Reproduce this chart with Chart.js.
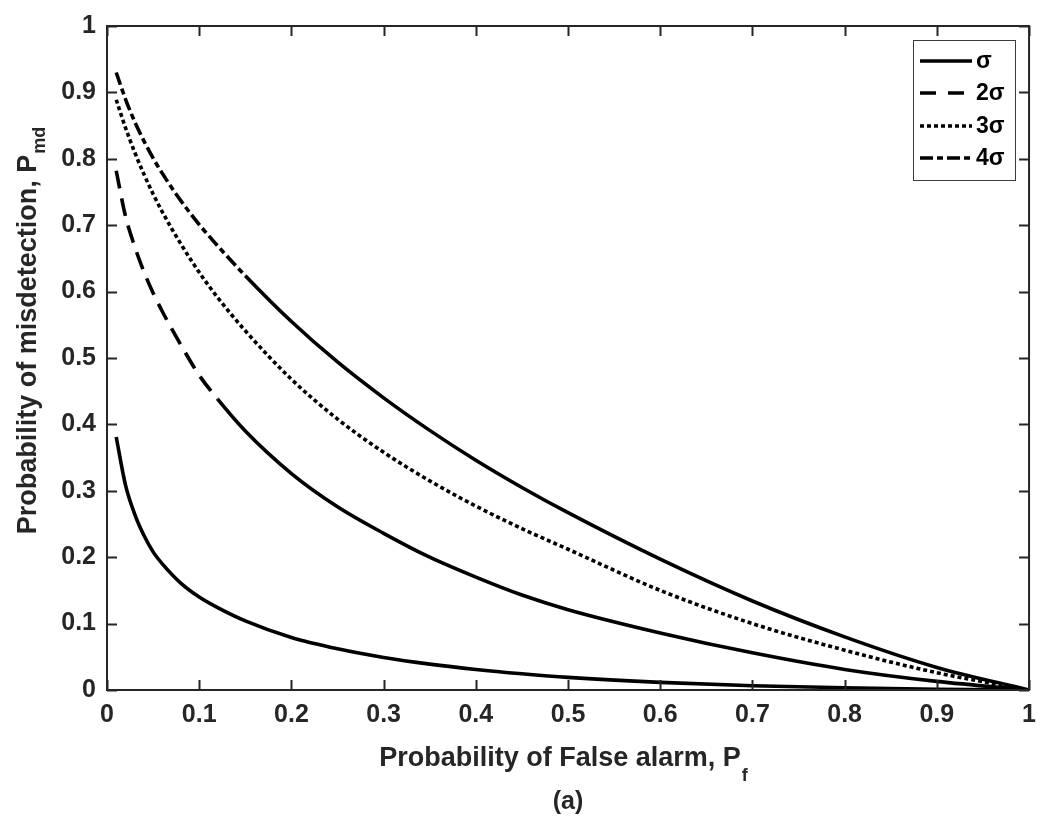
<!DOCTYPE html>
<html>
<head>
<meta charset="utf-8">
<style>
  html, body { margin: 0; padding: 0; background: #ffffff; }
  #wrap { width: 1046px; height: 823px; }
  canvas { display: block; }
</style>
<script src="https://cdn.jsdelivr.net/npm/chart.js@4/dist/chart.umd.min.js"></script>
</head>
<body>
<div id="wrap"><canvas id="roc" width="1046" height="823"></canvas></div>
<script>
// Probability of false alarm (x) shared by every curve
const pf = [0.01, 0.02, 0.03, 0.04, 0.05, 0.06, 0.08, 0.10, 0.12, 0.15, 0.20, 0.25, 0.30, 0.35, 0.40, 0.45, 0.50, 0.60, 0.70, 0.80, 0.90, 1.00];

// Probability of misdetection for each noise level
const pmdSigma1 = [0.381, 0.309, 0.265, 0.233, 0.208, 0.190, 0.161, 0.140, 0.124, 0.104, 0.079, 0.062, 0.049, 0.039, 0.031, 0.0245, 0.019, 0.0115, 0.0065, 0.0033, 0.0012, 0];
const pmdSigma2 = [0.782, 0.714, 0.668, 0.630, 0.598, 0.570, 0.520, 0.474, 0.438, 0.390, 0.326, 0.276, 0.236, 0.200, 0.170, 0.143, 0.121, 0.086, 0.056, 0.031, 0.013, 0];
const pmdSigma3 = [0.889, 0.847, 0.810, 0.777, 0.747, 0.720, 0.672, 0.629, 0.591, 0.541, 0.468, 0.408, 0.358, 0.315, 0.277, 0.243, 0.212, 0.150, 0.100, 0.060, 0.026, 0];
const pmdSigma4 = [0.930, 0.890, 0.856, 0.827, 0.801, 0.778, 0.737, 0.701, 0.669, 0.624, 0.555, 0.494, 0.440, 0.391, 0.346, 0.305, 0.267, 0.197, 0.134, 0.080, 0.034, 0];

const seriesNames = ['\u03c3', '2\u03c3', '3\u03c3', '4\u03c3'];

// Axis ticks
const xTickValues = [0, 0.1, 0.2, 0.3, 0.4, 0.5, 0.6, 0.7, 0.8, 0.9, 1];
const xTickLabels = ['0', '0.1', '0.2', '0.3', '0.4', '0.5', '0.6', '0.7', '0.8', '0.9', '1'];
const yTickValues = [0, 0.1, 0.2, 0.3, 0.4, 0.5, 0.6, 0.7, 0.8, 0.9, 1];
const yTickLabels = ['0', '0.1', '0.2', '0.3', '0.4', '0.5', '0.6', '0.7', '0.8', '0.9', '1'];

const FONT = '"Liberation Sans", Arial, Helvetica, sans-serif';
const AXIS_COLOR = '#262626';
const LINE_W = 3.6;

// Line styles: the dashed curves render as solid once points get dense
const DASH = [18, 10];
const DOT = [4, 3];
const DASHDOT = [13, 4, 6, 4];

function points(ys) { return pf.map((x, i) => ({ x: x, y: ys[i] })); }

function dashUntil(pattern, limit) {
  return ctx => (ctx.p0.parsed.x < limit ? pattern : []);
}

const datasets = [
  { label: seriesNames[0], data: points(pmdSigma1), borderDash: [], legendDash: [] },
  { label: seriesNames[1], data: points(pmdSigma2), borderDash: DASH, legendDash: [16, 12],
    segment: { borderDash: dashUntil(DASH, 0.12) } },
  { label: seriesNames[2], data: points(pmdSigma3), borderDash: DOT, legendDash: [4, 3] },
  { label: seriesNames[3], data: points(pmdSigma4), borderDash: DASHDOT, legendDash: [13, 4, 6, 4],
    segment: { borderDash: dashUntil(DASHDOT, 0.14) } }
].map(d => Object.assign({
  borderColor: '#000000',
  backgroundColor: '#000000',
  borderWidth: LINE_W,
  borderCapStyle: 'butt',
  borderJoinStyle: 'round',
  pointRadius: 0,
  fill: false,
  cubicInterpolationMode: 'monotone'
}, d));

// Box around the plot with inward tick marks on all four sides,
// axis titles with subscripts, caption and an inset legend
const matlabFrame = {
  id: 'matlabFrame',
  afterDraw(chart) {
    const ctx = chart.ctx;
    const a = chart.chartArea;
    const xs = chart.scales.x, ys = chart.scales.y;
    const TL = 10;
    ctx.save();
    ctx.strokeStyle = AXIS_COLOR;
    ctx.lineWidth = 2;
    ctx.beginPath();
    xTickValues.forEach(v => {
      const px = Math.round(xs.getPixelForValue(v)) + 0.5;
      ctx.moveTo(px, a.bottom); ctx.lineTo(px, a.bottom - TL);
      ctx.moveTo(px, a.top); ctx.lineTo(px, a.top + TL);
    });
    yTickValues.forEach(v => {
      const py = Math.round(ys.getPixelForValue(v)) + 0.5;
      ctx.moveTo(a.left, py); ctx.lineTo(a.left + TL, py);
      ctx.moveTo(a.right, py); ctx.lineTo(a.right - TL, py);
    });
    ctx.stroke();
    ctx.strokeRect(a.left, a.top, a.right - a.left, a.bottom - a.top);

    // x axis title
    ctx.fillStyle = AXIS_COLOR;
    ctx.textBaseline = 'alphabetic';
    const cx = (a.left + a.right) / 2;
    const mainX = 'Probability of False alarm, P';
    const subX = 'f';
    ctx.font = 'bold 27px ' + FONT;
    const wMainX = ctx.measureText(mainX).width;
    ctx.font = 'bold 18px ' + FONT;
    const wSubX = ctx.measureText(subX).width;
    const x0 = cx - 5 - (wMainX + wSubX) / 2;
    ctx.textAlign = 'left';
    ctx.font = 'bold 27px ' + FONT;
    ctx.fillText(mainX, x0, 766);
    ctx.font = 'bold 18px ' + FONT;
    ctx.fillText(subX, x0 + wMainX + 1, 781);

    // caption
    ctx.font = 'bold 25px ' + FONT;
    ctx.textAlign = 'center';
    ctx.fillText('(a)', cx, 809);

    // y axis title (rotated)
    const cy = 331;
    const mainY = 'Probability of misdetection, P';
    const subY = 'md';
    ctx.font = 'bold 27px ' + FONT;
    const wMainY = ctx.measureText(mainY).width;
    ctx.font = 'bold 18px ' + FONT;
    const wSubY = ctx.measureText(subY).width;
    ctx.save();
    ctx.translate(36, cy);
    ctx.rotate(-Math.PI / 2);
    const y0 = -(wMainY + wSubY) / 2;
    ctx.textAlign = 'left';
    ctx.font = 'bold 27px ' + FONT;
    ctx.fillText(mainY, y0, 0);
    ctx.font = 'bold 18px ' + FONT;
    ctx.fillText(subY, y0 + wMainY + 1, 9);
    ctx.restore();

    // legend
    const lx = 913.5, ly = 40.5, lw = 102, lh = 140;
    ctx.fillStyle = '#ffffff';
    ctx.fillRect(lx, ly, lw, lh);
    ctx.strokeStyle = '#3a3a3a';
    ctx.lineWidth = 1;
    ctx.strokeRect(lx, ly, lw, lh);
    const rows = [61, 93, 126, 158];
    chart.data.datasets.forEach((ds, i) => {
      const ry = rows[i];
      ctx.save();
      ctx.strokeStyle = '#000000';
      ctx.lineWidth = LINE_W;
      ctx.lineCap = 'butt';
      ctx.setLineDash(ds.legendDash);
      ctx.beginPath();
      ctx.moveTo(920, ry);
      ctx.lineTo(972, ry);
      ctx.stroke();
      ctx.restore();
      ctx.fillStyle = '#000000';
      ctx.font = 'bold 23px ' + FONT;
      ctx.textAlign = 'left';
      ctx.textBaseline = 'middle';
      ctx.fillText(ds.label, 976, ry + 1);
    });
    ctx.restore();
  }
};

const tickFont = { family: FONT, size: 25, weight: 'bold' };

new Chart(document.getElementById('roc'), {
  type: 'line',
  data: { datasets: datasets },
  options: {
    responsive: false,
    devicePixelRatio: 1,
    animation: false,
    layout: { padding: { left: 0, right: 11, top: 20, bottom: 0 } },
    plugins: { legend: { display: false }, tooltip: { enabled: false } },
    scales: {
      x: {
        type: 'linear', min: 0, max: 1,
        afterBuildTicks: s => { s.ticks = xTickValues.map(v => ({ value: v })); },
        afterFit: s => { s.height = 133; },
        ticks: { font: tickFont, color: AXIS_COLOR, padding: 10, maxRotation: 0, autoSkip: false,
                 callback: (v, i) => xTickLabels[i] },
        grid: { display: false, drawTicks: false },
        border: { display: false }
      },
      y: {
        type: 'linear', min: 0, max: 1,
        afterBuildTicks: s => { s.ticks = yTickValues.map(v => ({ value: v })); },
        afterFit: s => { s.width = 107; },
        ticks: { font: tickFont, color: AXIS_COLOR, padding: 11, autoSkip: false,
                 callback: (v, i) => yTickLabels[i] },
        grid: { display: false, drawTicks: false },
        border: { display: false }
      }
    }
  },
  plugins: [matlabFrame]
});
</script>
</body>
</html>
